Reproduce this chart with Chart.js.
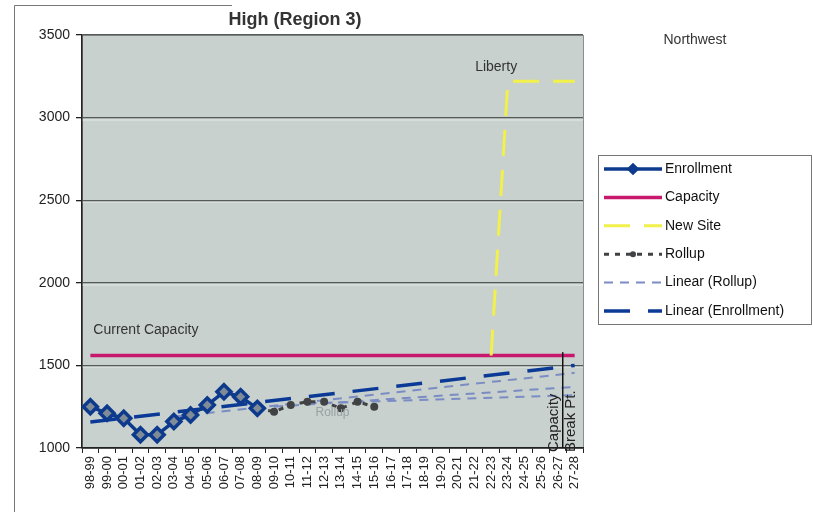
<!DOCTYPE html>
<html>
<head>
<meta charset="utf-8">
<script src="https://cdn.jsdelivr.net/npm/chart.js@4.4.0/dist/chart.umd.min.js"></script>
<style>
  html, body { margin: 0; padding: 0; background: #fff; }
  #wrap { width: 813px; height: 512px; position: relative; }
</style>
</head>
<body>
<div id="wrap"><canvas id="chart" width="813" height="512"></canvas></div>
<script>
// school years on the x axis
const years = ["98-99","99-00","00-01","01-02","02-03","03-04","04-05","05-06","06-07","07-08",
  "08-09","09-10","10-11","11-12","12-13","13-14","14-15","15-16","16-17","17-18",
  "18-19","19-20","20-21","21-22","22-23","23-24","24-25","25-26","26-27","27-28"]

const N = null
const enrollment = [1250,1210,1180,1080,1080,1160,1200,1260,1340,1310,1240]
const capacity = [1560,N,N,N,N,N,N,N,N,N,N,N,N,N,N,N,N,N,N,N,N,N,N,N,N,N,N,N,N,1560]
const newSite = [N,N,N,N,N,N,N,N,N,N,N,N,N,N,N,N,N,N,N,N,N,N,N,N,1560,3220,3220,3220,3220,3220]
const rollup = [N,N,N,N,N,N,N,N,N,N,1240,1220,1260,1280,1280,1240,1280,1250]
const linRollup = [N,N,N,N,N,1190,N,N,N,N,N,N,N,N,N,N,N,N,N,N,N,N,N,N,N,N,N,N,N,1455]
const linRollup2 = [N,N,N,N,N,N,N,N,N,N,N,1250,N,N,N,N,N,N,N,N,N,N,N,N,N,N,N,N,N,1370]
const linRollup3 = [N,N,N,N,N,N,N,N,N,N,N,N,N,1270,N,N,N,N,N,N,N,N,N,N,N,N,N,N,N,1320]
const linEnroll = [1157,N,N,N,N,N,N,N,N,N,N,N,N,N,N,N,N,N,N,N,N,N,N,N,N,N,N,N,N,1500]

const yTicks = [1000,1500,2000,2500,3000,3500]

const navy = "#0d3a8c"
const font = "Arial, 'Liberation Sans'"

// grey plot background + frame
const plotBg = {
  id: "plotBg",
  beforeDraw(chart) {
    const {ctx, chartArea: a} = chart
    ctx.save()
    ctx.fillStyle = "#c8d1ce"
    ctx.fillRect(a.left, a.top, a.right - a.left, a.bottom - a.top)
    ctx.strokeStyle = "#8a8f8e"
    ctx.lineWidth = 1
    ctx.strokeRect(a.left + 0.5, a.top + 0.5, a.right - a.left, a.bottom - a.top)
    // light line under each gridline (old excel look)
    ctx.strokeStyle = "#e4ebe9"
    ctx.lineWidth = 1
    chart.scales.y.ticks.forEach(t => {
      if (t.value <= 1000 || t.value >= 3500) return
      const py = Math.round(chart.scales.y.getPixelForValue(t.value)) + 2
      ctx.beginPath()
      ctx.moveTo(a.left, py); ctx.lineTo(a.right, py)
      ctx.stroke()
    })
    // scanned page frame
    ctx.strokeStyle = "#777"
    ctx.beginPath()
    ctx.moveTo(14.5, 512); ctx.lineTo(14.5, 5.5); ctx.lineTo(232, 5.5)
    ctx.stroke()
    ctx.restore()
  }
}

// text notes on the chart
const notes = {
  id: "notes",
  afterDraw(chart) {
    const {ctx} = chart
    const x = chart.scales.x, y = chart.scales.y
    ctx.save()
    ctx.fillStyle = "#333"
    ctx.font = "bold 18px " + font
    ctx.textAlign = "center"
    ctx.textBaseline = "middle"
    ctx.fillText("High (Region 3)", 295, 20)

    ctx.font = "14px " + font
    ctx.fillText("Northwest", 695, 40)

    ctx.font = "14px " + font
    ctx.fillText("Liberty", x.getPixelForValue(24) + 5, y.getPixelForValue(3306))

    ctx.textAlign = "left"
    ctx.font = "14px " + font
    ctx.fillText("Current Capacity", x.getPixelForValue(0) + 3, y.getPixelForValue(1714))

    ctx.textAlign = "center"
    ctx.fillStyle = "#9aa0a3"
    ctx.font = "12px " + font
    ctx.fillText("Rollup", (x.getPixelForValue(14) + x.getPixelForValue(15)) / 2, y.getPixelForValue(1212))

    // capacity break point marker
    const bx = (x.getPixelForValue(28) + x.getPixelForValue(29) * 0.4) / 1.4
    ctx.strokeStyle = "#111"
    ctx.lineWidth = 1.5
    ctx.beginPath()
    ctx.moveTo(bx, y.getPixelForValue(1580))
    ctx.lineTo(bx, y.bottom)
    ctx.stroke()
    ctx.fillStyle = "#222"
    ctx.font = "15px " + font
    ctx.textAlign = "left"
    ctx.save()
    ctx.translate(bx - 9, y.bottom + 4)
    ctx.rotate(-Math.PI / 2)
    ctx.fillText("Capacity", 0, 0)
    ctx.restore()
    ctx.save()
    ctx.translate(bx + 8, y.bottom + 4)
    ctx.rotate(-Math.PI / 2)
    ctx.fillText("Break Pt.", 0, 0)
    ctx.restore()
    ctx.restore()
  }
}

// legend box on the right, drawn from the datasets
const boxLegend = {
  id: "boxLegend",
  afterDraw(chart) {
    const {ctx} = chart
    ctx.save()
    ctx.fillStyle = "#fff"
    ctx.fillRect(598, 155, 214, 170)
    ctx.strokeStyle = "#777"
    ctx.lineWidth = 1
    ctx.strokeRect(598.5, 155.5, 213, 169)
    let row = 0
    chart.data.datasets.forEach(ds => {
      if (ds.noLegend) return
      const cy = 169 + row * 28.4
      ctx.save()
      ctx.strokeStyle = ds.borderColor
      ctx.lineWidth = ds.borderWidth
      ctx.setLineDash(ds.borderDash || [])
      ctx.beginPath()
      ctx.moveTo(604, cy)
      ctx.lineTo(662, cy)
      ctx.stroke()
      ctx.restore()
      if (ds.pointRadius > 0) {
        ctx.save()
        ctx.fillStyle = ds.pointBorderColor || ds.borderColor
        ctx.translate(633, cy)
        if (ds.pointStyle === "rectRot") {
          ctx.rotate(Math.PI / 4)
          ctx.fillRect(-4.5, -4.5, 9, 9)
        } else {
          ctx.beginPath()
          ctx.arc(0, 0, 3, 0, Math.PI * 2)
          ctx.fill()
        }
        ctx.restore()
      }
      ctx.fillStyle = "#111"
      ctx.font = "14px " + font
      ctx.textAlign = "left"
      ctx.textBaseline = "middle"
      ctx.fillText(ds.label, 665, cy)
      row++
    })
    ctx.restore()
  }
}

const ctx = document.getElementById("chart").getContext("2d")
const chart = new Chart(ctx, {
  type: "line",
  data: {
    labels: years,
    datasets: [
      { label: "Enrollment", data: enrollment, borderColor: navy, borderWidth: 3.5,
        pointStyle: "rectRot", pointRadius: 7, pointBackgroundColor: "#7f8c97",
        pointBorderColor: navy, pointBorderWidth: 3.5, order: 1 },
      { label: "Capacity", data: capacity, borderColor: "#c8186e", borderWidth: 3.5,
        pointRadius: 0, spanGaps: true, order: 7 },
      { label: "New Site", data: newSite, borderColor: "#f2f04a", borderWidth: 3,
        borderDash: [26, 14], pointRadius: 0, order: 6 },
      { label: "Rollup", data: rollup, borderColor: "#404244", borderWidth: 3,
        borderDash: [5, 6], pointRadius: 2.5, pointBackgroundColor: "#404244",
        pointBorderColor: "#404244", order: 2 },
      { label: "Linear (Rollup)", data: linRollup, borderColor: "#7b8cc4", borderWidth: 2,
        borderDash: [9, 7], pointRadius: 0, spanGaps: true, order: 4 },
      { label: "Linear (Enrollment)", data: linEnroll, borderColor: "#0b3a96", borderWidth: 3.5,
        borderDash: [26, 18], pointRadius: 0, spanGaps: true, order: 3 },
      { label: "", noLegend: true, data: linRollup2, borderColor: "#7b8cc4", borderWidth: 2,
        borderDash: [9, 7], pointRadius: 0, spanGaps: true, order: 5 },
      { label: "", noLegend: true, data: linRollup3, borderColor: "#7b8cc4", borderWidth: 2,
        borderDash: [9, 7], pointRadius: 0, spanGaps: true, order: 5 }
    ]
  },
  options: {
    responsive: false,
    animation: false,
    layout: { padding: { left: 0, top: 35, right: 230, bottom: 0 } },
    plugins: { legend: { display: false }, tooltip: { enabled: false } },
    scales: {
      x: {
        offset: true,
        afterFit(s) { s.height = 64 },
        grid: { display: true, drawOnChartArea: false, offset: true, tickLength: 5, color: "#222" },
        border: { color: "#222", width: 1.5 },
        ticks: { minRotation: 90, maxRotation: 90, autoSkip: false, color: "#222", padding: 3,
          font: { family: font, size: 13 } }
      },
      y: {
        min: 1000, max: 3500,
        afterFit(s) { s.width = 82 },
        afterBuildTicks(s) { s.ticks = yTicks.map(v => ({ value: v })) },
        grid: { color: "#55595a", lineWidth: 1.3, tickLength: 6, tickColor: "#222" },
        border: { color: "#222", width: 1.5 },
        ticks: { color: "#222", padding: 6, callback: v => String(v),
          font: { family: font, size: 14 } }
      }
    }
  },
  plugins: [plotBg, notes, boxLegend]
})
</script>
</body>
</html>
